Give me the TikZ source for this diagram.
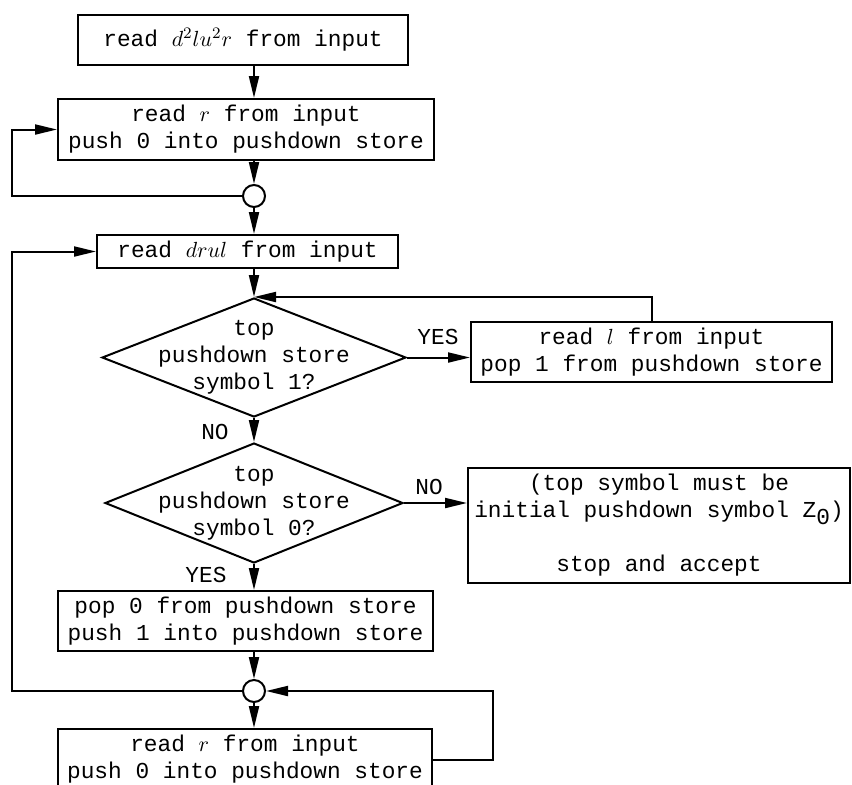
\documentclass[tikz,border=0pt]{standalone}
\usepackage{fontspec}
\setmonofont{Liberation Mono}
\usetikzlibrary{arrows.meta,shapes.geometric}

\begin{document}
\begin{tikzpicture}[x=0.5pt,y=-0.5pt,
  txt/.style={font=\ttfamily\fontsize{11.4}{13.5}\selectfont},
  box/.style={txt, draw, line width=1pt, inner sep=0pt, align=center},
  dia/.style={draw, diamond, line width=1pt, inner sep=0pt},
  junc/.style={draw, circle, line width=1pt, minimum size=11pt, inner sep=0pt},
  flow/.style={line width=1pt, -{Triangle[length=11pt,width=5pt]}},
  wire/.style={line width=1pt},
  lbl/.style={txt, inner sep=0pt}]
\clip (0,0) rectangle (852,784);

% main column
\node[box, minimum width=165pt, minimum height=25pt] (b1) at (243,40)
  {read $d^2lu^2r$ from input};
\node[box, minimum width=188pt, minimum height=30.5pt] (b2) at (246,129.5)
  {read $r$ from input\\push 0 into pushdown store};
\node[junc] (c1) at (254,196) {};
\node[box, minimum width=150.5pt, minimum height=16.5pt] (b3) at (247.5,251.5)
  {read $drul$ from input};
\node[dia, minimum width=152pt, minimum height=59.5pt,
  label={[txt, align=center]center:{top\\pushdown store\\symbol 1?}}] (d1) at (254,357.5) {};
\node[box, minimum width=180.5pt, minimum height=30pt] (b6) at (651.5,352)
  {read $l$ from input\\pop 1 from pushdown store};
\node[dia, minimum width=149pt, minimum height=60pt,
  label={[txt, align=center]center:{top\\pushdown store\\symbol 0?}}] (d2) at (254,503) {};
\node[box, minimum width=191pt, minimum height=57.5pt] (b7) at (659,525.5)
  {(top symbol must be\\initial pushdown symbol Z\raisebox{-3.5pt}{0})\\[13.5pt]stop and accept};
\node[box, minimum width=187.5pt, minimum height=30pt] (b4) at (245.5,621)
  {pop 0 from pushdown store\\push 1 into pushdown store};
\node[junc] (c2) at (254,691) {};
\node[box, minimum width=187pt, minimum height=30.5pt] (b5) at (245,759.5)
  {read $r$ from input\\push 0 into pushdown store};

% branch labels
\node[lbl] (yes1) at (438,337) {YES};
\node[lbl] (no1) at (215,432) {NO};
\node[lbl] (no2) at (429,487) {NO};
\node[lbl] (yes2) at (206,575) {YES};

% loop rails
\coordinate (Lx) at (12,0);
\coordinate (Rx) at (493,0);

% connectors
\draw[flow] (b1.south -| c1) -- (b2.north -| c1);
\draw[flow] (b2.south -| c1) -- (c1.north);
\draw[flow] (c1.west) -- (c1.west -| Lx) |- (b2.west);
\draw[flow] (c1.south) -- (b3.north -| c1);
\draw[flow] (b3.south -| d1) -- (d1.north);
\draw[flow] (d1.east) -- (d1.east -| b6.west);
\draw[flow] (b6.north) |- (d1.north);
\draw[flow] (d1.south) -- (d2.north);
\draw[flow] (d2.east) -- (d2.east -| b7.west);
\draw[flow] (d2.south) -- (b4.north -| d2);
\draw[flow] (b4.south -| c2) -- (c2.north);
\draw[flow] (c2.south) -- (b5.north -| c2);
\draw[flow] (c2.west) -- (c2.west -| Lx) |- (b3.west);
\draw[flow] (b5.east) -- (b5.east -| Rx) |- (c2.east);
\end{tikzpicture}
\end{document}
